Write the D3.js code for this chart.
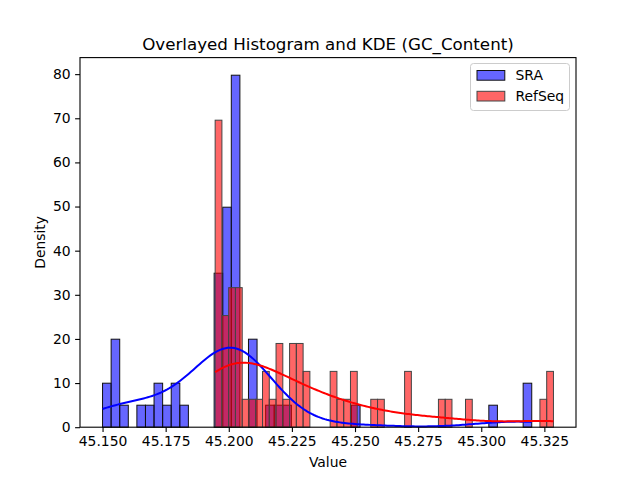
<!doctype html>
<html>
<head>
<script src="https://cdn.jsdelivr.net/npm/d3@7/dist/d3.min.js"></script>
<style>
body { margin: 0; background: #fff; }
text { font-family: "DejaVu Sans", sans-serif; fill: #000; }
</style>
</head>
<body>
<svg width="640" height="480"></svg>
<script>
// histogram bin counts (50 equal bins per series)
var sraRange = [45.150, 45.320];
var sraCounts = [2,4,1,0,1,1,2,1,2,1, 0,0,0,7,10,16,0,4,0,1,
                 1,1,0,0,0,0,0,0,0,1, 0,0,0,0,0,0,0,0,0,0,
                 0,0,0,0,0,1,0,0,0,2];
var refRange = [45.1946, 45.3286];
var refCounts = [11,4,5,5,1,1,1,2,1,3, 1,3,3,2,0,0,0,2,1,1,
                 2,0,0,1,1,0,0,0,2,0, 0,0,0,1,1,0,0,1,0,0,
                 0,0,0,0,0,0,0,0,1,2];
var seriesNames = ["SRA", "RefSeq"];
var xTicks = [45.150, 45.175, 45.200, 45.225, 45.250, 45.275, 45.300, 45.325];
var yTicks = [0, 10, 20, 30, 40, 50, 60, 70, 80];

var plotL = 80, plotR = 576, plotT = 57.6, plotB = 427.2;

function buildSeries(range, counts) {
  var n = d3.sum(counts);
  var w = (range[1] - range[0]) / counts.length;
  var bins = counts.map((c, i) => ({x0: range[0] + i * w, x1: range[0] + (i + 1) * w, c: c, d: c / (n * w)}));
  var samples = [];
  bins.forEach(b => { for (var k = 0; k < b.c; k++) samples.push((b.x0 + b.x1) / 2); });
  var bw = d3.deviation(samples) * Math.pow(n, -0.2);
  var grid = d3.range(200).map(k => range[0] + k * (range[1] - range[0]) / 199);
  var kde = grid.map(x => [x, d3.sum(samples, s => Math.exp(-0.5 * Math.pow((x - s) / bw, 2))) / (n * bw * Math.sqrt(2 * Math.PI))]);
  return {bins: bins, kde: kde};
}

var sra = buildSeries(sraRange, sraCounts);
var ref = buildSeries(refRange, refCounts);

var xmin = Math.min(sraRange[0], refRange[0]), xmax = Math.max(sraRange[1], refRange[1]);
var pad = (xmax - xmin) * 0.05;
var x = d3.scaleLinear().domain([xmin - pad, xmax + pad]).range([plotL, plotR]);
var ymax = d3.max(sra.bins.concat(ref.bins), b => b.d);
var y = d3.scaleLinear().domain([0, ymax * 1.05]).range([plotB, plotT]);

var svg = d3.select("svg");

function drawBars(s, fill, edge) {
  svg.append("g").selectAll("rect")
    .data(s.bins.filter(b => b.c > 0))
    .enter().append("rect")
    .attr("x", b => x(b.x0))
    .attr("y", b => y(b.d))
    .attr("width", b => x(b.x1) - x(b.x0))
    .attr("height", b => y(0) - y(b.d))
    .style("fill", fill).style("fill-opacity", 0.6)
    .style("stroke", edge).style("stroke-width", 1);
}
drawBars(sra, "blue", "#111");
drawBars(ref, "red", "#444");

var line = d3.line().x(d => x(d[0])).y(d => y(d[1]));
svg.append("path").datum(sra.kde).attr("d", line)
  .style("fill", "none").style("stroke", "blue").style("stroke-width", 2);
svg.append("path").datum(ref.kde).attr("d", line)
  .style("fill", "none").style("stroke", "red").style("stroke-width", 2);

// axes
var xAxis = svg.append("g").attr("transform", "translate(0," + plotB + ")")
  .call(d3.axisBottom(x).tickValues(xTicks).tickFormat(d3.format(".3f")).tickSize(4.9).tickPadding(4.5));
var yAxis = svg.append("g").attr("transform", "translate(" + plotL + ",0)")
  .call(d3.axisLeft(y).tickValues(yTicks).tickSize(4.9).tickPadding(4.5));
[xAxis, yAxis].forEach(a => {
  a.select(".domain").remove();
  a.selectAll("line").style("stroke", "#000").style("stroke-width", 1.1);
  a.selectAll("text").style("font-size", "13.9px").style("font-family", "DejaVu Sans").style("fill", "#000");
});
svg.append("rect").attr("x", plotL).attr("y", plotT)
  .attr("width", plotR - plotL).attr("height", plotB - plotT)
  .style("fill", "none").style("stroke", "#000").style("stroke-width", 1.1);

svg.append("text").attr("x", (plotL + plotR) / 2).attr("y", 50)
  .attr("text-anchor", "middle").style("font-size", "16.7px")
  .text("Overlayed Histogram and KDE (GC_Content)");
svg.append("text").attr("x", (plotL + plotR) / 2).attr("y", 467)
  .attr("text-anchor", "middle").style("font-size", "13.9px").text("Value");
svg.append("text").attr("transform", "translate(45," + (plotT + plotB) / 2 + ") rotate(-90)")
  .attr("text-anchor", "middle").style("font-size", "13.9px").text("Density");

// legend
var lg = svg.append("g").attr("transform", "translate(470.5,63.5)");
lg.append("rect").attr("width", 99).attr("height", 47).attr("rx", 3)
  .style("fill", "#fff").style("fill-opacity", 0.8).style("stroke", "#ccc").style("stroke-width", 1);
var items = [{name: seriesNames[0], fill: "blue", edge: "#111"}, {name: seriesNames[1], fill: "red", edge: "#444"}];
items.forEach((it, i) => {
  var gy = 7 + i * 20.8;
  lg.append("rect").attr("x", 6.5).attr("y", gy).attr("width", 27.8).attr("height", 9.7)
    .style("fill", it.fill).style("fill-opacity", 0.6).style("stroke", it.edge).style("stroke-width", 1);
  lg.append("text").attr("x", 45).attr("y", gy + 9.5).style("font-size", "13.9px").text(it.name);
});
</script>
</body>
</html>
